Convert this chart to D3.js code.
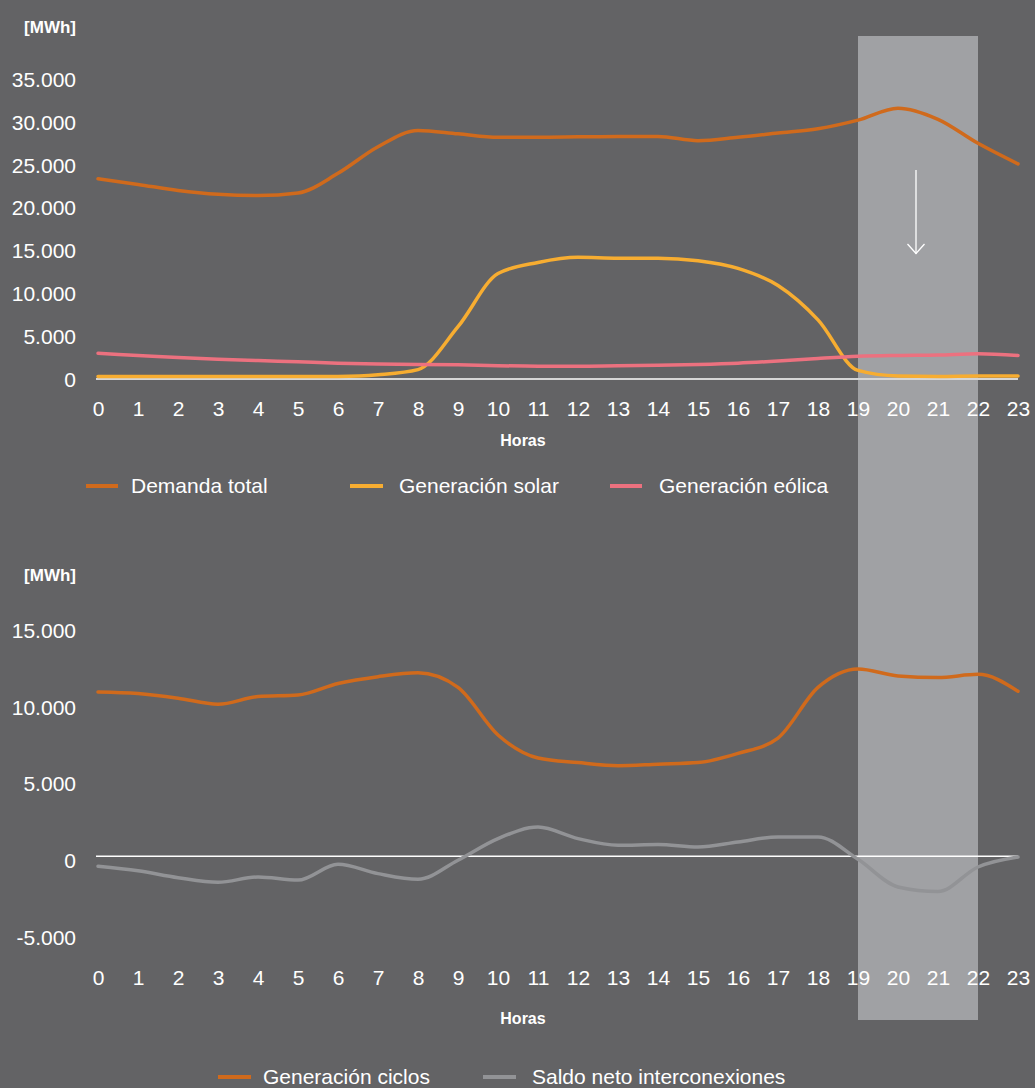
<!DOCTYPE html>
<html>
<head>
<meta charset="utf-8">
<script src="https://cdn.jsdelivr.net/npm/d3@7"></script>
<style>
  html, body { margin: 0; padding: 0; background: #636365; }
  svg { display: block; font-family: "Liberation Sans", Arial, Helvetica, sans-serif; }
</style>
</head>
<body>
<svg id="chart" width="1035" height="1088"></svg>
<script>
// Hourly profile (MWh)
const hours = [0, 1, 2, 3, 4, 5, 6, 7, 8, 9, 10, 11, 12, 13, 14, 15, 16, 17, 18, 19, 20, 21, 22, 23];

const demandaTotal = [23350, 22700, 22000, 21550, 21400, 21700, 24000, 27100, 29000, 28600, 28200, 28200,
                      28250, 28300, 28300, 27800, 28200, 28700, 29200, 30200, 31600, 30300, 27500, 25100];
const generacionSolar = [280, 280, 280, 280, 280, 280, 300, 500, 1100, 6100, 12300, 13600,
                         14200, 14100, 14100, 13800, 12900, 10900, 6900, 1000, 350, 300, 350, 350];
const generacionEolica = [3000, 2750, 2500, 2300, 2150, 2000, 1850, 1750, 1700, 1650, 1550, 1500,
                          1500, 1550, 1600, 1700, 1850, 2100, 2400, 2650, 2750, 2800, 2950, 2750];

const generacionCiclos = [10700, 10600, 10300, 9900, 10400, 10500, 11250, 11700, 11950, 11000, 7900, 6400,
                          6100, 5900, 6000, 6100, 6700, 7700, 11000, 12200, 11750, 11650, 11850, 10750];
const saldoInterconexiones = [-650, -950, -1400, -1700, -1350, -1550, -520, -1130, -1500, -260, 1150, 1900,
                              1150, 720, 760, 600, 930, 1260, 1260, -200, -2000, -2300, -700, -50];

const topTicks = [0, 5000, 10000, 15000, 20000, 25000, 30000, 35000];
const bottomTicks = [-5000, 0, 5000, 10000, 15000];
const highlightHours = [19, 22];

const topSeries = [
  { name: "Demanda total", values: demandaTotal, color: "#d06a1c" },
  { name: "Generación solar", values: generacionSolar, color: "#f7ad31" },
  { name: "Generación eólica", values: generacionEolica, color: "#ec717f" }
];
const bottomSeries = [
  { name: "Generación ciclos", values: generacionCiclos, color: "#d06a1c" },
  { name: "Saldo neto interconexiones", values: saldoInterconexiones, color: "#929396" }
];

const svg = d3.select("#chart");
const textColor = "#ffffff";
const fontSize = 21;
const es = d3.formatLocale({ decimal: ",", thousands: ".", grouping: [3], currency: ["", " €"], minus: "-" });
const fmt = es.format(",");

const x = d3.scaleLinear().domain([0, 23]).range([98, 1018]);
const yTop = d3.scaleLinear().domain([0, 35000]).range([379, 79]);
const yBot = d3.scaleLinear().domain([-5000, 15000]).range([933, 626]);

// Highlighted evening window spanning both panels
svg.append("rect")
  .attr("x", x(highlightHours[0]))
  .attr("y", 36)
  .attr("width", x(highlightHours[1]) - x(highlightHours[0]))
  .attr("height", 984)
  .attr("fill", "#a0a1a4");

function yAxis(scale, ticks, labelShift) {
  const g = svg.append("g").attr("transform", "translate(76,0)")
    .call(d3.axisLeft(scale).tickValues(ticks).tickSize(0).tickFormat(fmt));
  g.select(".domain").remove();
  g.selectAll("text")
    .attr("x", 0).attr("dy", "0.35em")
    .attr("transform", `translate(0,${labelShift})`)
    .attr("fill", textColor).attr("font-size", fontSize);
}

function xAxis(yPos, labelOffset) {
  const g = svg.append("g").attr("transform", `translate(0,${yPos})`)
    .call(d3.axisBottom(x).tickValues(hours).tickSize(0).tickFormat(d3.format("d")));
  g.select(".domain").remove();
  g.selectAll("text")
    .attr("y", labelOffset).attr("dy", "0.35em")
    .attr("fill", textColor).attr("font-size", fontSize);
}

function unitLabel(yPos) {
  svg.append("text").attr("x", 76).attr("y", yPos).attr("text-anchor", "end")
    .attr("font-size", 17).attr("font-weight", "bold").attr("fill", textColor).text("[MWh]");
}

function axisTitle(yPos) {
  svg.append("text").attr("x", 523).attr("y", yPos).attr("text-anchor", "middle")
    .attr("font-size", 16).attr("font-weight", "bold").attr("fill", textColor).text("Horas");
}

function zeroLine(scale, color, width) {
  svg.append("line")
    .attr("x1", x(0) - 2).attr("x2", x(23))
    .attr("y1", scale(0)).attr("y2", scale(0))
    .attr("stroke", color).attr("stroke-width", width);
}

function drawLines(series, scale) {
  const line = d3.line()
    .x((d, i) => x(hours[i]))
    .y(d => scale(d))
    .curve(d3.curveMonotoneX);
  svg.append("g").selectAll("path").data(series).join("path")
    .attr("d", s => line(s.values))
    .attr("fill", "none")
    .attr("stroke", s => s.color)
    .attr("stroke-width", 3.5)
    .attr("stroke-linecap", "round")
    .attr("stroke-linejoin", "round");
}

function legend(series, positions, yPos) {
  const g = svg.append("g");
  series.forEach((s, i) => {
    const p = positions[i];
    g.append("line").attr("x1", p[0]).attr("x2", p[1]).attr("y1", yPos).attr("y2", yPos)
      .attr("stroke", s.color).attr("stroke-width", 4);
    g.append("text").attr("x", p[2]).attr("y", yPos).attr("dy", "0.35em")
      .attr("font-size", fontSize).attr("fill", textColor).text(s.name);
  });
}

// Upper panel: demand and renewables
unitLabel(33);
yAxis(yTop, topTicks, 0);
xAxis(yTop(0), 30);
axisTitle(446);
zeroLine(yTop, "#d6d6d6", 2);
drawLines(topSeries, yTop);
legend(topSeries, [[86, 118, 131], [350, 383, 399], [610, 642, 659]], 486);

// Arrow inside the highlighted window
const ax = (x(highlightHours[0]) + x(highlightHours[1])) / 2 - 2;
svg.append("line").attr("x1", ax).attr("x2", ax).attr("y1", 170).attr("y2", 254)
  .attr("stroke", "#ffffff").attr("stroke-width", 1.3);
svg.append("polyline")
  .attr("points", `${ax - 8.5},244 ${ax},253.5 ${ax + 8.5},244`)
  .attr("fill", "none").attr("stroke", "#ffffff").attr("stroke-width", 1.3);

// Lower panel: combined cycles and interconnections
unitLabel(581);
yAxis(yBot, bottomTicks, 4);
xAxis(yBot(-5000), 45);
axisTitle(1024);
zeroLine(yBot, "#ffffff", 1.5);
drawLines(bottomSeries, yBot);
legend(bottomSeries, [[218, 251, 263], [483, 516, 532]], 1077);
</script>
</body>
</html>
